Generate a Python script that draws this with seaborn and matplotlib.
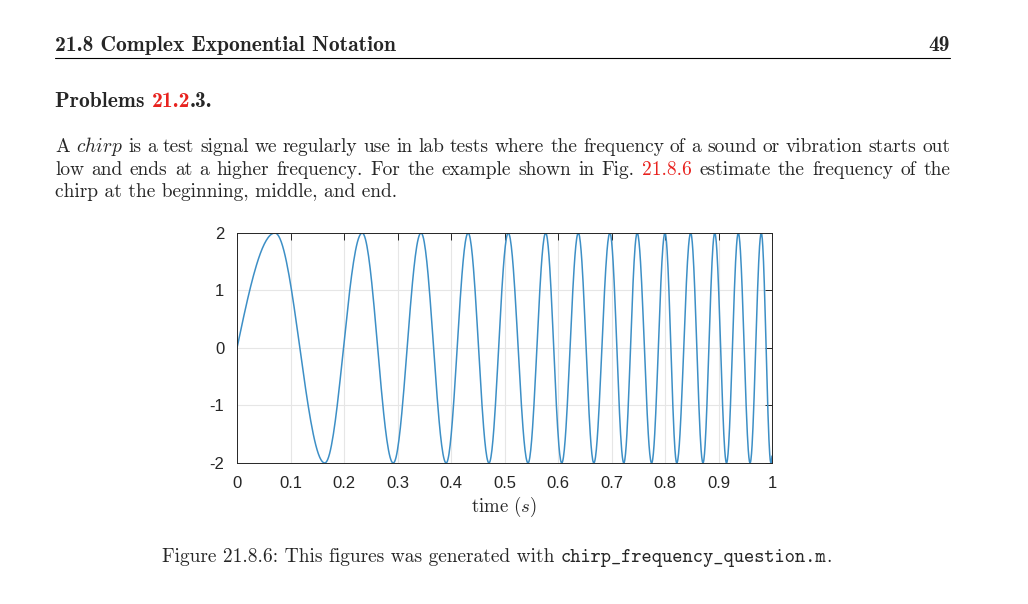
import numpy as np
import pandas as pd
import matplotlib
matplotlib.use("Agg")
from matplotlib import pyplot as plt
import seaborn as sns

# extrema of the chirp (time in s, value)
peak_t = [0.071, 0.234, 0.344, 0.432, 0.507, 0.577, 0.638, 0.697, 0.748, 0.800,
          0.848, 0.893, 0.937, 0.980]
trough_t = [0.164, 0.292, 0.391, 0.471, 0.544, 0.607, 0.667, 0.723, 0.775, 0.822,
            0.871, 0.915, 0.959, 0.998]
amp = 2.0
x_ticks = [0, 0.1, 0.2, 0.3, 0.4, 0.5, 0.6, 0.7, 0.8, 0.9, 1]
x_labels = ["0", "0.1", "0.2", "0.3", "0.4", "0.5", "0.6", "0.7", "0.8", "0.9", "1"]
y_ticks = [-2, -1, 0, 1, 2]

# knots: start at zero, then alternating peaks/troughs
knots = sorted([(t, amp) for t in peak_t] + [(t, -amp) for t in trough_t])
ts, ys = [], []
# rising quarter wave from (0, 0) to the first peak
s = np.linspace(0, 1, 40)
ts += list(knots[0][0] * s)
ys += list(amp * np.sin(s * np.pi / 2))
# half-cosine segments joining successive extrema
for (t0, y0), (t1, y1) in zip(knots[:-1], knots[1:]):
    ts += list(t0 + (t1 - t0) * s[1:])
    ys += list(y0 * np.cos(s[1:] * np.pi))
# short rise after the last trough to the end of the record
t_last = knots[-1][0]
half = knots[-1][0] - knots[-2][0]
s2 = np.linspace(0, (1 - t_last) / half, 5)[1:]
ts += list(t_last + half * s2)
ys += list(-amp * np.cos(s2 * np.pi))
df = pd.DataFrame({"t": ts, "y": ys})

sns.set_style("white")
plt.rcParams["axes.unicode_minus"] = False
plt.rcParams["mathtext.fontset"] = "cm"

W, H = 1028, 604
fig = plt.figure(figsize=(W / 100, H / 100), dpi=100)
fig.patch.set_facecolor("white")

ax = fig.add_axes([237 / W, 1 - 463 / H, 535 / W, 230 / H])
sns.lineplot(data=df, x="t", y="y", ax=ax, color="#3d8fc6", linewidth=1.1, sort=False)
ax.set_xlim(0, 1)
ax.set_ylim(-2, 2)
ax.set_xticks(x_ticks)
ax.set_xticklabels(x_labels)
ax.set_yticks(y_ticks)
ax.grid(True, color="#e6e6e6", linewidth=0.8)
ax.tick_params(direction="in", top=True, right=True, length=5, width=0.7,
               colors="#262626", labelsize=12, pad=9)
for lab in ax.get_xticklabels() + ax.get_yticklabels():
    lab.set_family("Liberation Sans")
for sp in ax.spines.values():
    sp.set_visible(True)
    sp.set_color("#262626")
    sp.set_linewidth(0.7)
ax.set_xlabel(r"time ($s$)", family="cmr10", fontsize=13.5, labelpad=3)
ax.set_ylabel("")

fs = 14
hs = 15.5
renderer = fig.canvas.get_renderer()


def px(x, y):
    return x / W, 1 - y / H


def width(txt, **kw):
    kw = dict(kw)
    size = kw.pop("fontsize", fs)
    t = fig.text(0, 0, txt, fontsize=size, **kw)
    w = t.get_window_extent(renderer).width
    t.remove()
    return w


def run(x, y, parts):
    for txt, kw in parts:
        kw = dict(kw)
        size = kw.pop("fontsize", fs)
        t = fig.text(*px(x, y), txt, fontsize=size, va="baseline", **kw)
        x += t.get_window_extent(renderer).width
    return x


R = {"family": "cmr10"}
B = {"family": "cmb10", "fontsize": hs}
I = {"family": "cmr10", "math_fontfamily": "cm"}
RED = {"family": "cmr10", "color": "#e8221e"}
TT = {"family": "cmtt10"}

# header
run(55, 51, [("21.8 Complex Exponential Notation", B)])
fig.text(*px(950, 51), "49", family="cmb10", fontsize=hs, ha="right", va="baseline")
fig.add_artist(plt.Line2D([55 / W, 950 / W], [1 - 58 / H] * 2, color="black", lw=0.8))

run(55, 107, [("Problems ", B), ("21.2", dict(RED, family="cmb10", fontsize=hs)), (".3.", B)])


def justify(y, words, x0=55, x1=950):
    widths = [sum(width(t, **k) for t, k in w) for w in words]
    gap = (x1 - x0 - sum(widths)) / (len(words) - 1)
    x = x0
    for w, wd in zip(words, widths):
        run(x, y, w)
        x += wd + gap


line1 = "is a test signal we regularly use in lab tests where the frequency of a sound or vibration starts out".split()
words1 = [[("A", R)], [(r"$\it{chirp}$", I)]] + [[(w, R)] for w in line1]
justify(152, words1)
line2a = "low and ends at a higher frequency. For the example shown in Fig.".split()
line2b = "estimate the frequency of the".split()
words2 = [[(w, R)] for w in line2a] + [[("21.8.6", RED)]] + [[(w, R)] for w in line2b]
justify(175, words2)
run(55, 197, [("chirp at the beginning, middle, and end.", R)])

# caption
cap = [("Figure 21.8.6: This figures was generated with ", R),
       ("chirp_frequency_question.m", TT), (".", R)]
total = sum(width(t, **k) for t, k in cap)
run(497 - total / 2, 562, cap)

fig.savefig("out.png", dpi=100)
